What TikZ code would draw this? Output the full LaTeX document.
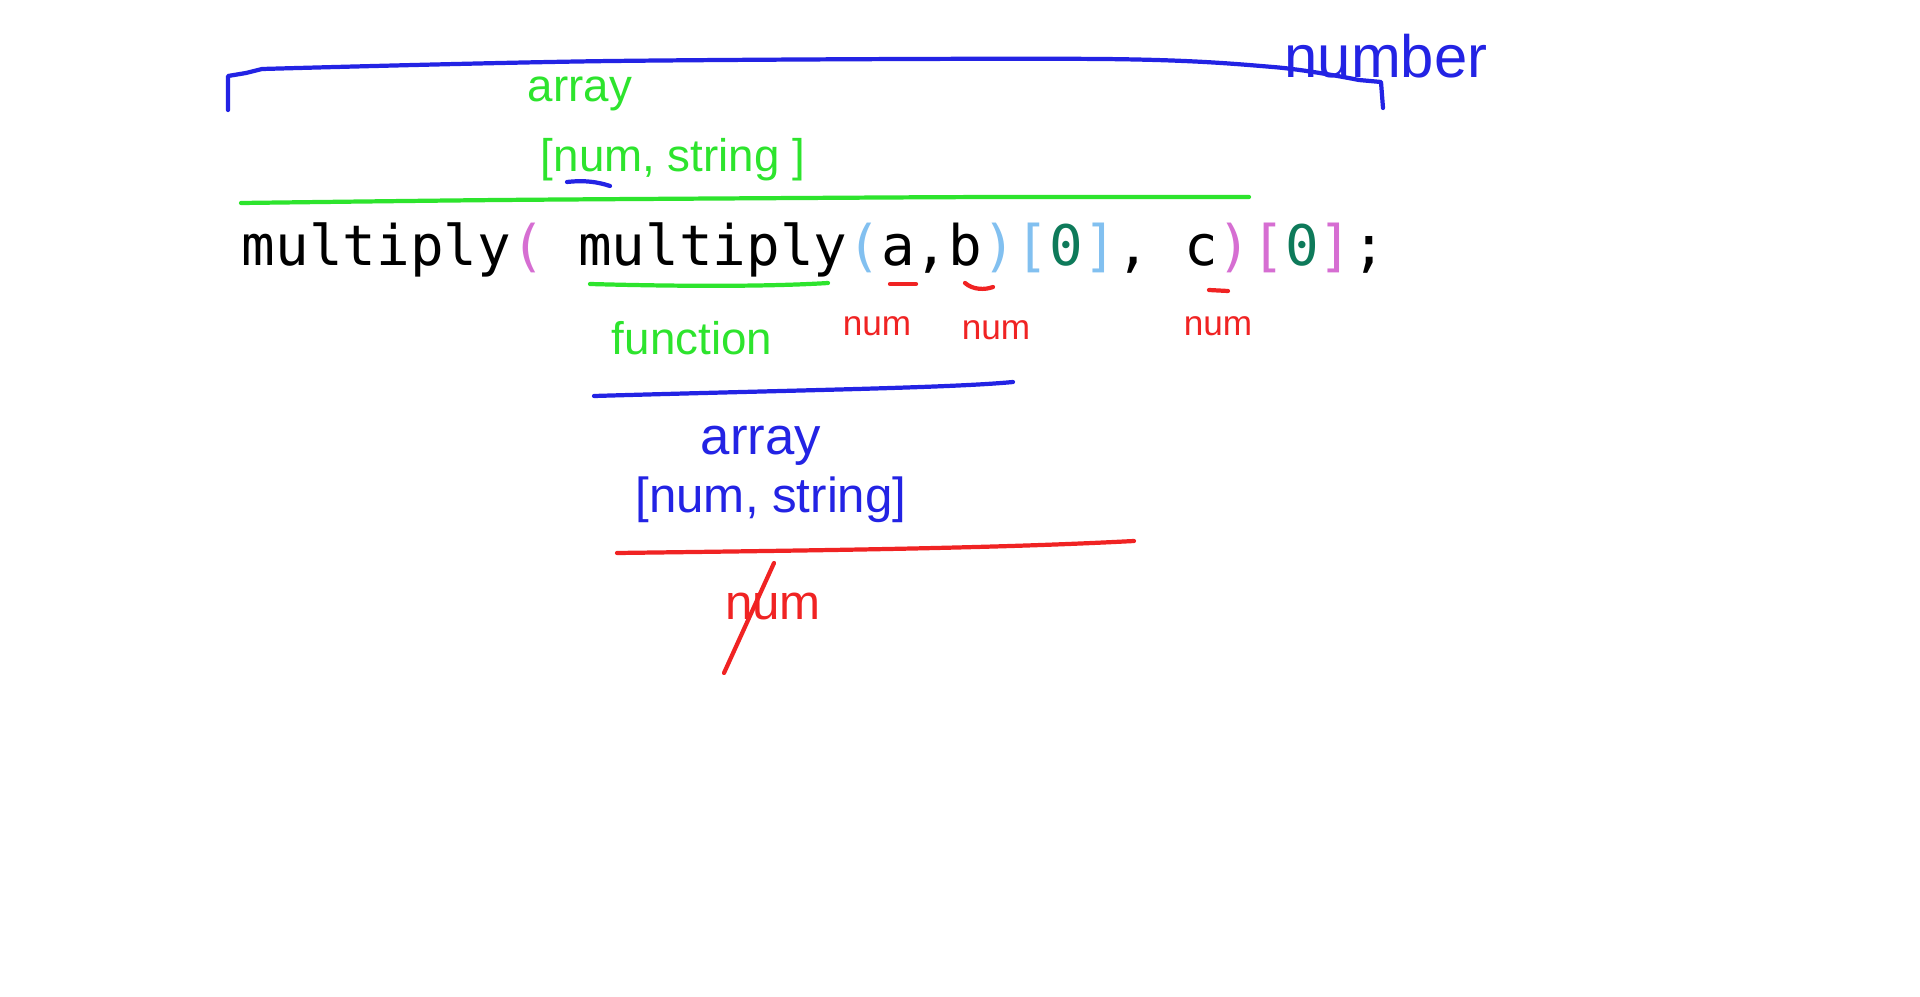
\documentclass[tikz,border=0pt]{standalone}
\usepackage{fontspec}
\setmainfont{Liberation Sans}
\setmonofont{DejaVu Sans Mono}
\definecolor{penblue}{RGB}{35,35,228}
\definecolor{pengreen}{RGB}{45,228,45}
\definecolor{penred}{RGB}{240,35,35}
\definecolor{outerpar}{RGB}{214,110,210}
\definecolor{innerpar}{RGB}{130,192,240}
\definecolor{zero}{RGB}{14,122,90}
\begin{document}
\begin{tikzpicture}[
    x=0.01cm, y=-0.01cm,
    line cap=round, line join=round,
    pen/.style={line width=1.2pt},
    hand/.style={inner sep=0pt, font=\fontsize{13}{15}\selectfont},
    bighand/.style={inner sep=0pt, font=\fontsize{15}{17}\selectfont},
    smallhand/.style={inner sep=0pt, font=\fontsize{10}{12}\selectfont},
    code/.style={inner sep=0pt, anchor=base west, font=\ttfamily\fontsize{15.9}{18}\selectfont}
]
  \useasboundingbox[fill=white] (0,0) rectangle (1920,997);

  % code line
  \node[code] (expr) at (241,266)
    {multiply\textcolor{outerpar}{(} multiply\textcolor{innerpar}{(}a,b\textcolor{innerpar}{)[}\textcolor{zero}{0}\textcolor{innerpar}{]}, c\textcolor{outerpar}{)[}\textcolor{zero}{0}\textcolor{outerpar}{]};};

  % outer bracket: number
  \draw[pen, penblue] (228,110) -- (228,76) -- (246,73) -- (262,69)
    plot[smooth] coordinates {(262,69) (612,61) (1102,59) (1273,67) (1359,80)}
    -- (1381,82) -- (1383,108);
  \node[inner sep=0pt, anchor=base, font=\fontsize{17}{19}\selectfont, text=penblue] (numberLbl) at (1386,78) {number};

  % green: array [num, string]
  \node[hand, text=pengreen] (arrTop) at (580,94) {array};
  \node[hand, text=pengreen] (tupleTop) at (673,160) {[num, string ]};
  \draw[pen, penblue] (567,182) .. controls (585,180) and (598,182) .. (610,186);
  \draw[pen, pengreen] plot[smooth] coordinates {(241,203) (500,200) (800,198) (1000,197) (1249,197)};

  % inner multiply: function
  \draw[pen, pengreen] (590,284) .. controls (700,287) and (780,286) .. (828,283);
  \node[hand, text=pengreen] (funcLbl) at (692,338) {function};

  % arguments: num
  \draw[pen, penred] (890,284) -- (916,284);
  \draw[pen, penred] (965,283) .. controls (973,290) and (985,290) .. (993,287);
  \draw[pen, penred] (1209,290) -- (1228,291);
  \node[smallhand, text=penred] (numA) at (877,326) {num};
  \node[smallhand, text=penred] (numB) at (996,330) {num};
  \node[smallhand, text=penred] (numC) at (1218,326) {num};

  % blue: array [num, string]
  \draw[pen, penblue] (594,396) .. controls (800,390) and (950,388) .. (1013,382);
  \node[bighand, text=penblue] (arrMid) at (761,446) {array};
  \node[hand, font=\fontsize{14}{16}\selectfont, text=penblue] (tupleMid) at (771,500) {[num, string]};

  % red: num (crossed out)
  \draw[pen, penred] (617,553) .. controls (850,550) and (1000,548) .. (1134,541);
  \node[inner sep=0pt, font=\fontsize{14}{16}\selectfont, text=penred] (numEnd) at (773,606) {num};
  \draw[pen, penred] (774,563) -- (724,673);
\end{tikzpicture}
\end{document}
